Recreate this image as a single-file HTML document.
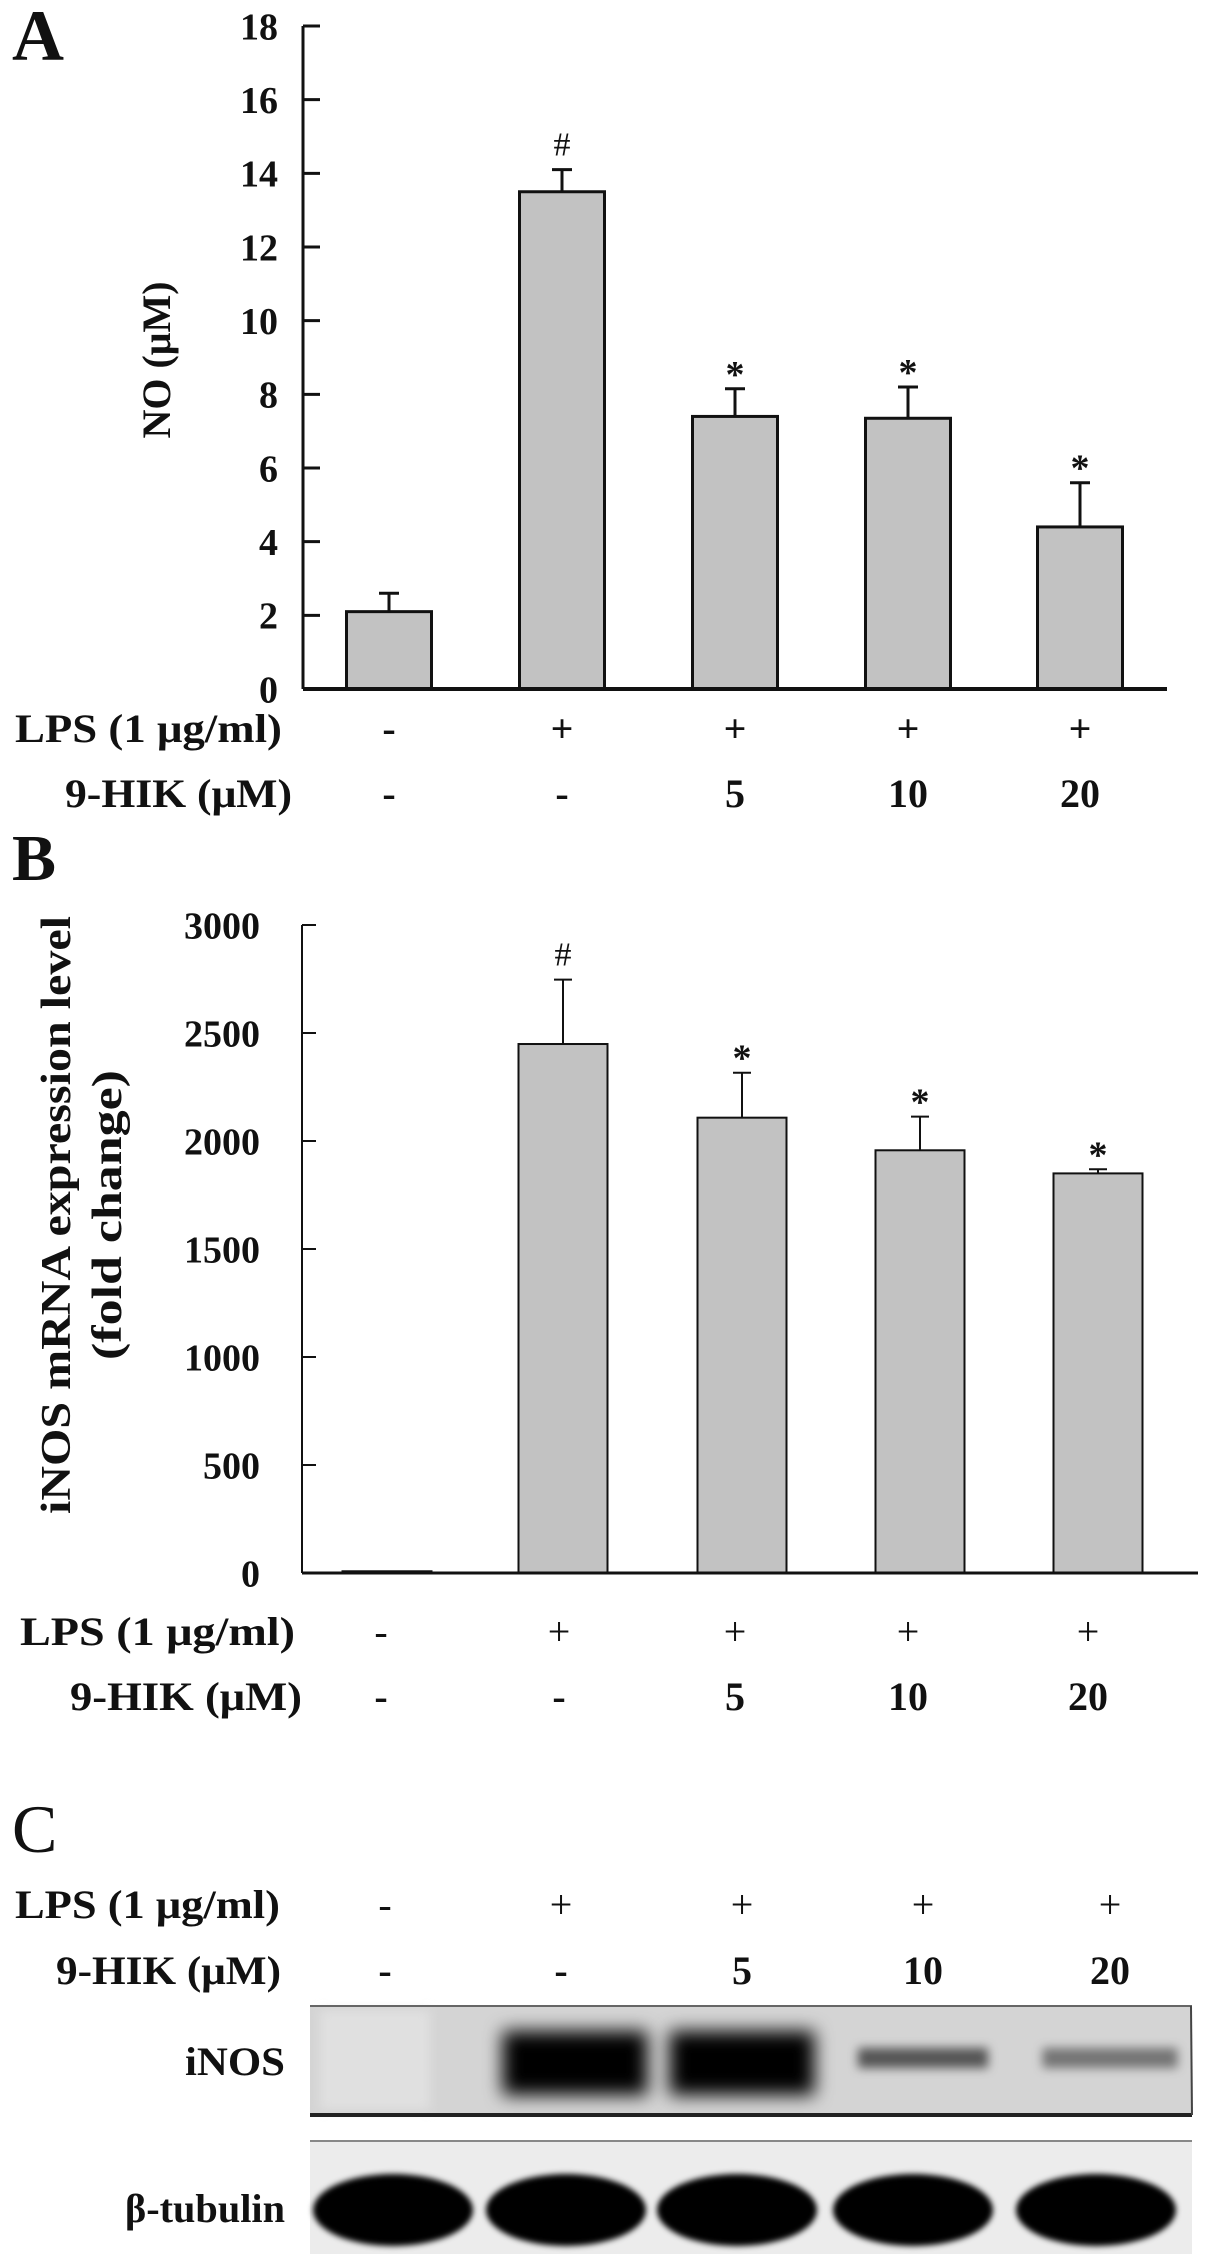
<!DOCTYPE html>
<html><head><meta charset="utf-8"><style>
html,body{margin:0;padding:0;background:#fff;}
svg{display:block;font-family:"Liberation Serif",serif;font-weight:bold;}
</style></head><body>
<svg id="fig" width="1205" height="2264" viewBox="0 0 1205 2264" xmlns="http://www.w3.org/2000/svg">
<defs>
<filter id="blur6" x="-30%" y="-50%" width="160%" height="200%"><feGaussianBlur stdDeviation="9"/></filter>
<filter id="blur3" x="-30%" y="-80%" width="160%" height="260%"><feGaussianBlur stdDeviation="5"/></filter>
<filter id="blur2" x="-30%" y="-80%" width="160%" height="260%"><feGaussianBlur stdDeviation="3"/></filter>
</defs>
<g id="panelA"></g>
<g id="panelB"></g>
<g id="panelC"></g>
</svg>
<script>
// Panel A data
const catsA = ["ctrl","LPS","LPS+5","LPS+10","LPS+20"];
const valsA = [2.1, 13.5, 7.4, 7.35, 4.4];
const errsA = [0.5, 0.6, 0.75, 0.85, 1.2];
const marksA = ["", "#", "*", "*", "*"];
const ticksA = [0,2,4,6,8,10,12,14,16,18];
// Panel B data
const valsB = [8, 2449, 2108, 1957, 1850];
const errsB = [0, 298, 208, 156, 19];
const marksB = ["", "#", "*", "*", "*"];
const ticksB = [0,500,1000,1500,2000,2500,3000];
// Treatment rows
const lpsRow = ["-","+","+","+","+"];
const hikRow = ["-","-","5","10","20"];
// Blot intensities (0-1)
const inosInt = [0.0, 1.0, 0.95, 0.45, 0.3];
const tubInt = [1, 1, 1, 1, 1];

const NS="http://www.w3.org/2000/svg";
function mk(parent, tag, attrs, text){
  const e=document.createElementNS(NS,tag);
  for(const k in attrs) e.setAttribute(k,attrs[k]);
  if(text!==undefined) e.textContent=text;
  parent.appendChild(e); return e;
}

function drawBarPanel(g, o){
  const y = v => o.y0 - (v - o.min)/(o.max-o.min)*(o.y0-o.y1);
  const x = i => o.xc[i];
  const ax = mk(g,'line',{x1:o.ax,y1:o.y1,x2:o.ax,y2:o.y0,stroke:'#111','stroke-width':o.sw});
  
  
  o.ticks.forEach(t=>{
    const tl=mk(g,'line',{x1:o.ax,y1:y(t),x2:o.ax+o.tickLen,y2:y(t),stroke:'#111','stroke-width':o.sw});
    
    
    const tx=mk(g,'text',{x:o.ax-o.labGap,y:y(t)+o.tfs*0.35,'text-anchor':'end','font-size':o.tfs,fill:'#111'},String(t));
    
    
  });
  o.vals.forEach((v,i)=>{
    const cx=x(i);
    const r=mk(g,'rect',{x:cx-o.bw/2,y:y(v),width:o.bw,height:o.y0-y(v),fill:'#c2c2c2',stroke:'#111','stroke-width':o.sw});
    
    
    if(o.errs[i]>0){
      const e=mk(g,'path',{d:`M${cx},${y(v)} V${y(v+o.errs[i])} M${cx-o.cap},${y(v+o.errs[i])} H${cx+o.cap}`,stroke:'#111','stroke-width':o.sw,fill:'none'});
      
      
    }
    if(o.marks[i]){
      const isHash=o.marks[i]==='#';
      const m=mk(g,'text',{x:cx,y:y(v+o.errs[i])-(isHash?o.hashOff:o.starOff),'text-anchor':'middle','font-size':isHash?o.hfs:o.sfs,'font-weight':isHash?'normal':'bold',fill:'#111'},o.marks[i]);
      
      
    }
  });
  const bl=mk(g,'line',{x1:o.ax,y1:o.y0,x2:o.axEnd,y2:o.y0,stroke:'#111','stroke-width':o.sw+1});
  
  
}

function rows(g, xs, yL, yH, fs, lx1, lwL, lx2, lwH, lpsBold){
  const a=mk(g,'text',{x:lx1,y:yL,'font-size':fs,fill:'#111',textLength:lwL,lengthAdjust:'spacingAndGlyphs'},'LPS (1 μg/ml)');
  
  
  const b=mk(g,'text',{x:lx2-lwH,y:yH,'font-size':fs,fill:'#111',textLength:lwH,lengthAdjust:'spacingAndGlyphs'},'9-HIK (μM)');
  
  
  lpsRow.forEach((s,i)=>{
    const t=mk(g,'text',{x:xs[i],y:yL,'text-anchor':'middle','font-size':fs,'font-weight':lpsBold?'bold':'normal',fill:'#111'},s);
    
    
  });
  hikRow.forEach((s,i)=>{
    const t=mk(g,'text',{x:xs[i],y:yH,'text-anchor':'middle','font-size':fs,fill:'#111'},s);
    
    
  });
}

// Panel A
const gA=document.getElementById('panelA');
const la=mk(gA,'text',{x:12,y:60,'font-size':72,fill:'#111'},'A');


drawBarPanel(gA,{ax:303,y0:689,y1:26,min:0,max:18,ticks:ticksA,vals:valsA,errs:errsA,marks:marksA,
  xc:[389,562,735,908,1080],bw:85,cap:10,sw:3,tickLen:17,labGap:25,tfs:38,axEnd:1167,hfs:34,sfs:38,hashOff:14,starOff:2});
const ta=mk(gA,'text',{x:0,y:0,'font-size':40,'text-anchor':'middle',fill:'#111',transform:'translate(170,360) rotate(-90)'},'NO (μM)');


rows(gA,[389,562,735,908,1080],742,807,40,15,267,292,227,true);

// Panel B
const gB=document.getElementById('panelB');
const lb=mk(gB,'text',{x:12,y:880,'font-size':66,fill:'#111'},'B');


drawBarPanel(gB,{ax:302,y0:1573,y1:925,min:0,max:3000,ticks:ticksB,vals:valsB,errs:errsB,marks:marksB,
  xc:[387,563,742,920,1098],bw:89,cap:9,sw:2,tickLen:14,labGap:42,tfs:38,axEnd:1198,hfs:34,sfs:38,hashOff:14,starOff:2});
const tb1=mk(gB,'text',{x:0,y:0,'font-size':42,'text-anchor':'middle',fill:'#111',textLength:598,lengthAdjust:'spacingAndGlyphs',transform:'translate(70,1215) rotate(-90)'},'iNOS mRNA expression level');


const tb2=mk(gB,'text',{x:0,y:0,'font-size':42,'text-anchor':'middle',fill:'#111',textLength:290,lengthAdjust:'spacingAndGlyphs',transform:'translate(121,1215) rotate(-90)'},'(fold change)');


rows(gB,[381,559,735,908,1088],1645,1710,40,20,275,302,232,false);

// Panel C
const gC=document.getElementById('panelC');
const lc=mk(gC,'text',{x:12,y:1852,'font-size':68,'font-weight':'normal',fill:'#111'},'C');


const lanes=[385,561,742,923,1110];
rows(gC,lanes,1918,1984,40,15,265,281,225,false);
// iNOS blot
const b1=mk(gC,'rect',{x:310,y:2005,width:882,height:110,fill:'#d4d4d4'});


mk(gC,'rect',{x:320,y:2010,width:110,height:100,fill:'#e0e0e0',filter:'url(#blur3)'});
mk(gC,'line',{x1:310,y1:2115,x2:1192,y2:2115,stroke:'#222','stroke-width':4});
mk(gC,'line',{x1:310,y1:2006,x2:1192,y2:2006,stroke:'#666','stroke-width':2});
mk(gC,'line',{x1:1191,y1:2006,x2:1192,y2:2115,stroke:'#444','stroke-width':2});
const bandW=[0,145,145,130,135];
inosInt.forEach((v,i)=>{
  if(v<=0) return;
  const strong=v>0.6;
  const h = strong?64:20;
  const cy = strong?2063:2058;
  const b=mk(gC,'rect',{x:lanes[i]-bandW[i]/2+(i===1?14:0),y:cy-h/2,width:bandW[i],height:h,fill:'#000','fill-opacity':Math.min(1,v+0.15),filter:strong?'url(#blur6)':'url(#blur3)'});
  
  
});
const l1=mk(gC,'text',{x:285,y:2075,'text-anchor':'end','font-size':40,fill:'#111',textLength:100,lengthAdjust:'spacingAndGlyphs'},'iNOS');


// tubulin blot
const b2=mk(gC,'rect',{x:310,y:2140,width:882,height:114,fill:'#ececec'});


mk(gC,'line',{x1:310,y1:2141,x2:1192,y2:2141,stroke:'#888','stroke-width':2});
const tubX=[393,566,737,913,1096];
tubInt.forEach((v,i)=>{
  const b=mk(gC,'ellipse',{cx:tubX[i],cy:2210,rx:80,ry:36,fill:'#000','fill-opacity':v,filter:'url(#blur2)'});
  
  
});
const l2=mk(gC,'text',{x:285,y:2222,'text-anchor':'end','font-size':40,fill:'#111',textLength:160,lengthAdjust:'spacingAndGlyphs'},'β-tubulin');


</script>
</body></html>
